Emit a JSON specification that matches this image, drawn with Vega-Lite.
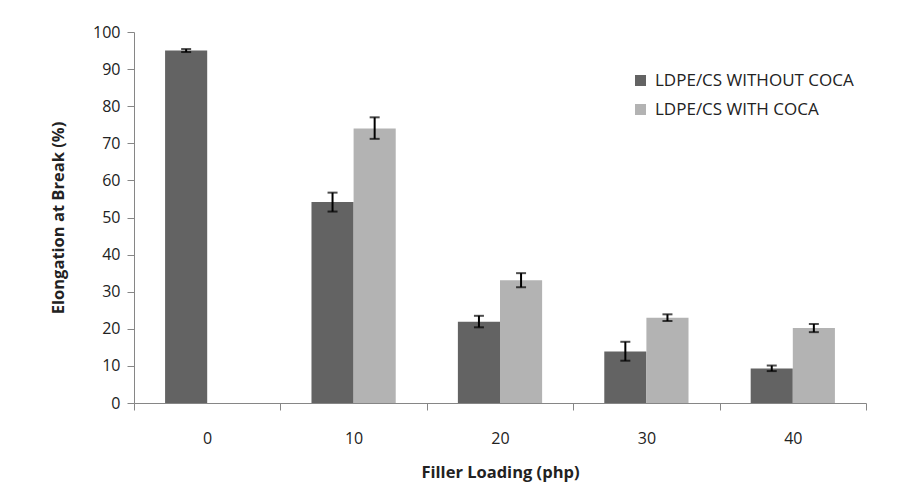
{
  "$schema": "https://vega.github.io/schema/vega-lite/v6.json",
  "width": 732,
  "height": 371,
  "autosize": "none",
  "padding": {"left": 134, "top": 32, "right": 50, "bottom": 87},
  "background": "white",
  "config": {
    "view": {"stroke": null},
    "font": "Open Sans",
    "axis": {"labelFont": "Open Sans", "titleFont": "Open Sans", "labelColor": "#222222", "titleColor": "#222222"},
    "legend": {"labelFont": "Open Sans"}
  },
  "data": {
    "values": [
      {"load": "0", "series": "LDPE/CS WITHOUT COCA", "value": 95.0, "lo": 94.6, "hi": 95.4},
      {"load": "10", "series": "LDPE/CS WITHOUT COCA", "value": 54.2, "lo": 51.6, "hi": 56.7},
      {"load": "10", "series": "LDPE/CS WITH COCA", "value": 74.0, "lo": 71.2, "hi": 77.0},
      {"load": "20", "series": "LDPE/CS WITHOUT COCA", "value": 21.9, "lo": 20.4, "hi": 23.5},
      {"load": "20", "series": "LDPE/CS WITH COCA", "value": 33.1, "lo": 31.2, "hi": 35.0},
      {"load": "30", "series": "LDPE/CS WITHOUT COCA", "value": 13.9, "lo": 11.4, "hi": 16.5},
      {"load": "30", "series": "LDPE/CS WITH COCA", "value": 23.0, "lo": 22.1, "hi": 23.9},
      {"load": "40", "series": "LDPE/CS WITHOUT COCA", "value": 9.3, "lo": 8.6, "hi": 10.1},
      {"load": "40", "series": "LDPE/CS WITH COCA", "value": 20.2, "lo": 19.1, "hi": 21.3}
    ]
  },
  "encoding": {
    "x": {
      "field": "load",
      "type": "ordinal",
      "sort": ["0", "10", "20", "30", "40"],
      "scale": {"paddingInner": 0, "paddingOuter": 0},
      "axis": {
        "tickBand": "extent",
        "labelAngle": 0,
        "domainColor": "#868686",
        "tickColor": "#868686",
        "tickSize": 7,
        "labelFontSize": 16,
        "labelPadding": 20,
        "title": "Filler Loading (php)",
        "titleFontSize": 16.5,
        "titleFontWeight": "bold",
        "titlePadding": 18
      }
    },
    "xOffset": {
      "field": "series",
      "type": "nominal",
      "scale": {"domain": ["LDPE/CS WITHOUT COCA", "LDPE/CS WITH COCA"], "paddingInner": 0, "paddingOuter": 0.738}
    }
  },
  "layer": [
    {
      "mark": {"type": "bar"},
      "encoding": {
        "y": {
          "field": "value",
          "type": "quantitative",
          "scale": {"domain": [0, 100], "nice": false},
          "axis": {
            "values": [0, 10, 20, 30, 40, 50, 60, 70, 80, 90, 100],
            "labelOverlap": false,
            "grid": false,
            "domainColor": "#868686",
            "tickColor": "#868686",
            "tickSize": 7,
            "labelFontSize": 16,
            "labelPadding": 7,
            "title": "Elongation at Break (%)",
            "titleFontSize": 16.5,
            "titleFontWeight": "bold",
            "titlePadding": 26
          }
        },
        "color": {
          "field": "series",
          "type": "nominal",
          "scale": {"domain": ["LDPE/CS WITHOUT COCA", "LDPE/CS WITH COCA"], "range": ["#636363", "#b3b3b3"]},
          "legend": {
            "title": null,
            "orient": "none",
            "legendX": 498,
            "legendY": 40,
            "symbolType": "square",
            "symbolSize": 121,
            "symbolStrokeWidth": 0,
            "labelFontSize": 17,
            "labelLimit": 0,
            "labelColor": "#222222",
            "rowPadding": 11,
            "labelOffset": 6
          }
        }
      }
    },
    {
      "mark": {"type": "rule", "color": "black", "strokeWidth": 2},
      "encoding": {
        "y": {
          "field": "lo",
          "type": "quantitative",
          "axis": {
            "values": [0, 10, 20, 30, 40, 50, 60, 70, 80, 90, 100],
            "labelOverlap": false,
            "grid": false,
            "domainColor": "#868686",
            "tickColor": "#868686",
            "tickSize": 7,
            "labelFontSize": 16,
            "labelPadding": 7,
            "title": "Elongation at Break (%)",
            "titleFontSize": 16.5,
            "titleFontWeight": "bold",
            "titlePadding": 26
          }
        },
        "y2": {"field": "hi"}
      }
    },
    {
      "mark": {"type": "tick", "color": "black", "thickness": 2, "size": 10},
      "encoding": {
        "y": {
          "field": "lo",
          "type": "quantitative",
          "axis": {
            "values": [0, 10, 20, 30, 40, 50, 60, 70, 80, 90, 100],
            "labelOverlap": false,
            "grid": false,
            "domainColor": "#868686",
            "tickColor": "#868686",
            "tickSize": 7,
            "labelFontSize": 16,
            "labelPadding": 7,
            "title": "Elongation at Break (%)",
            "titleFontSize": 16.5,
            "titleFontWeight": "bold",
            "titlePadding": 26
          }
        }
      }
    },
    {
      "mark": {"type": "tick", "color": "black", "thickness": 2, "size": 10},
      "encoding": {
        "y": {
          "field": "hi",
          "type": "quantitative",
          "axis": {
            "values": [0, 10, 20, 30, 40, 50, 60, 70, 80, 90, 100],
            "labelOverlap": false,
            "grid": false,
            "domainColor": "#868686",
            "tickColor": "#868686",
            "tickSize": 7,
            "labelFontSize": 16,
            "labelPadding": 7,
            "title": "Elongation at Break (%)",
            "titleFontSize": 16.5,
            "titleFontWeight": "bold",
            "titlePadding": 26
          }
        }
      }
    }
  ]
}
